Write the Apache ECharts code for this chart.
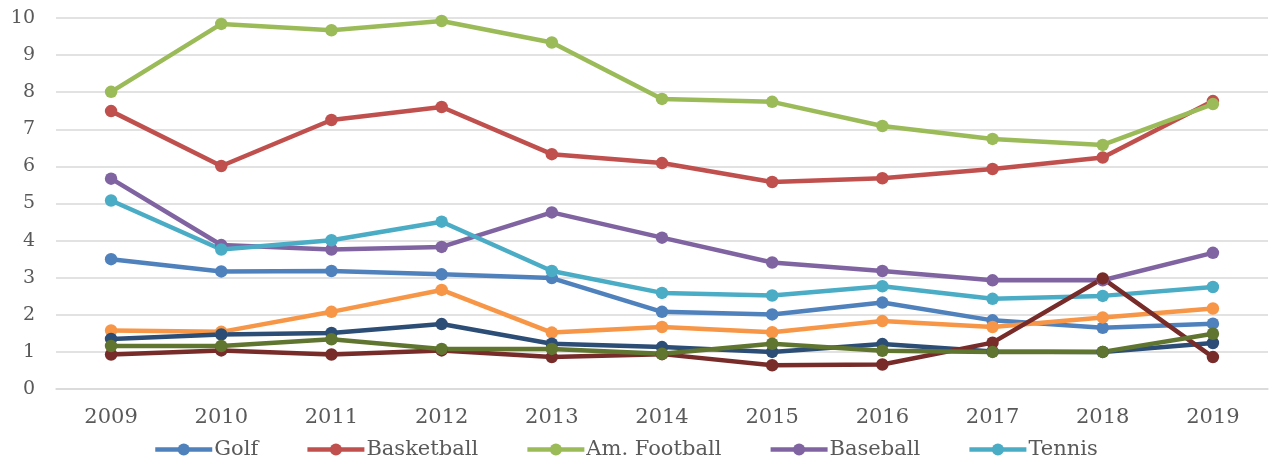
<!DOCTYPE html>
<html>
<head>
<meta charset="utf-8">
<script src="https://cdn.jsdelivr.net/npm/echarts@6/dist/echarts.min.js"></script>
<style>
  html, body { margin: 0; padding: 0; background: #ffffff; }
  #chart { width: 1271px; height: 463px; }
</style>
</head>
<body>
<div id="chart"></div>
<script>
// Years on the category axis
const years = ['2009', '2010', '2011', '2012', '2013', '2014', '2015', '2016', '2017', '2018', '2019'];

// Named series shown in the legend
const golf       = [3.50, 3.17, 3.18, 3.09, 2.99, 2.08, 2.01, 2.33, 1.85, 1.65, 1.76];
const basketball = [7.49, 6.01, 7.25, 7.60, 6.33, 6.09, 5.58, 5.68, 5.93, 6.24, 7.76];
const amFootball = [8.01, 9.84, 9.67, 9.92, 9.34, 7.82, 7.74, 7.09, 6.74, 6.58, 7.68];
const baseball   = [5.67, 3.88, 3.76, 3.83, 4.76, 4.08, 3.41, 3.18, 2.93, 2.93, 3.67];
const tennis     = [5.08, 3.76, 4.01, 4.51, 3.18, 2.59, 2.52, 2.77, 2.43, 2.51, 2.75];

// Further series plotted without legend entries
const series6 = [1.58, 1.54, 2.08, 2.67, 1.52, 1.67, 1.53, 1.83, 1.67, 1.93, 2.17];
const series7 = [1.35, 1.47, 1.51, 1.75, 1.22, 1.13, 1.00, 1.21, 1.01, 1.00, 1.24];
const series8 = [0.93, 1.04, 0.93, 1.04, 0.86, 0.94, 0.64, 0.66, 1.25, 2.98, 0.86];
const series9 = [1.16, 1.16, 1.34, 1.08, 1.08, 0.95, 1.22, 1.03, 1.00, 1.00, 1.49];

// Y axis ticks
const yMin = 0, yMax = 10, yStep = 1;

const legendNames = ['Golf', 'Basketball', 'Am. Football', 'Baseball', 'Tennis'];

const lines = [
  { name: 'Golf',         data: golf,       color: '#4F81BD' },
  { name: 'Basketball',   data: basketball, color: '#C0504D' },
  { name: 'Am. Football', data: amFootball, color: '#9BBB59' },
  { name: 'Baseball',     data: baseball,   color: '#8064A2' },
  { name: 'Tennis',       data: tennis,     color: '#4BACC6' },
  { name: 'Series 6',     data: series6,    color: '#F79646' },
  { name: 'Series 7',     data: series7,    color: '#2C4D75' },
  { name: 'Series 8',     data: series8,    color: '#772C2A' },
  { name: 'Series 9',     data: series9,    color: '#5F7530' }
];

const textFont = 'DejaVu Serif, Liberation Serif, serif';

const chart = echarts.init(document.getElementById('chart'), null, { renderer: 'canvas' });

chart.setOption({
  animation: false,
  backgroundColor: '#ffffff',
  grid: { left: 56, right: 3, top: 18, bottom: 74, containLabel: false },
  legend: {
    data: legendNames,
    left: 148,
    top: 434,
    itemWidth: 57,
    itemHeight: 15,
    itemGap: 47,
    lineStyle: { width: 4.5 },
    textStyle: { fontFamily: textFont, fontSize: 21, color: '#595959', padding: [0, 0, 0, -3] }
  },
  xAxis: {
    type: 'category',
    data: years,
    boundaryGap: true,
    axisLine: { show: true, lineStyle: { color: '#D9D9D9', width: 1.5 } },
    axisTick: { show: false },
    axisLabel: { fontFamily: textFont, fontSize: 21, color: '#595959', margin: 18 }
  },
  yAxis: {
    type: 'value',
    min: yMin,
    max: yMax,
    interval: yStep,
    axisLine: { show: false },
    axisTick: { show: false },
    splitLine: { lineStyle: { color: '#D9D9D9', width: 1.5 } },
    axisLabel: { fontFamily: textFont, fontSize: 19, color: '#595959', margin: 21 }
  },
  series: lines.map(s => ({
    name: s.name,
    type: 'line',
    data: s.data,
    symbol: 'circle',
    symbolSize: 12.5,
    lineStyle: { color: s.color, width: 4.5 },
    itemStyle: { color: s.color },
    emphasis: { disabled: true }
  }))
});
</script>
</body>
</html>
